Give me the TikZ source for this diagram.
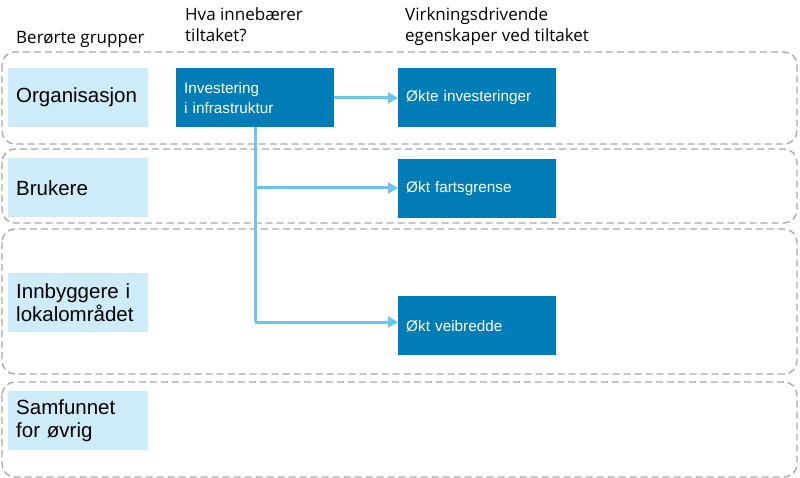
\documentclass[tikz,border=0pt]{standalone}
\usepackage{fontspec}
\setmainfont{Liberation Sans}
\newfontfamily\headfont{Open Sans}
\usetikzlibrary{arrows.meta}
\definecolor{lightbox}{HTML}{CDEBF8}
\definecolor{darkbox}{HTML}{007DB7}
\definecolor{arrowblue}{HTML}{6CC5EF}
\definecolor{dashgray}{HTML}{A8A8A8}
\begin{document}
\begin{tikzpicture}[x=1pt,y=-1pt,
  rowbox/.style={draw=dashgray,line width=1.3pt,dash pattern=on 7pt off 4pt,rounded corners=13pt},
  groupbox/.style={fill=lightbox,anchor=north west,minimum width=140pt,minimum height=59pt,text width=124pt,inner xsep=8pt,align=left,font=\fontsize{20.5}{23}\selectfont},
  effectbox/.style={fill=darkbox,text=white,anchor=north west,minimum width=158pt,minimum height=59pt,text width=142pt,inner xsep=8pt,align=left,font=\fontsize{15.3}{20}\selectfont},
  header/.style={anchor=base west,inner sep=0pt,align=left,font=\headfont\fontsize{17}{21}\selectfont},
  flow/.style={draw=arrowblue,line width=3pt,-{Triangle[length=10pt,width=11pt]}},
  ]
\useasboundingbox (0,0) rectangle (800,478);
% row frames
\draw[rowbox] (2,52) rectangle (797,144);
\draw[rowbox] (2,149) rectangle (797,223);
\draw[rowbox] (2,229) rectangle (797,374);
\draw[rowbox] (2,382) rectangle (797,477);
% headers
\node[header] (h1) at (16,44) {Berørte grupper};
\node[header] (h2) at (185,42) {Hva innebærer\\tiltaket?};
\node[header] (h3) at (405,42) {Virkningsdrivende\\egenskaper ved tiltaket};
% group boxes
\node[groupbox] (g1) at (8,68) {Organisasjon};
\node[groupbox] (g2) at (8,158) {Brukere};
\node[groupbox] (g3) at (8,273) {Innbyggere i\\lokalområdet};
\node[groupbox] (g4) at (8,391) {Samfunnet\\for øvrig};
% measure and effects
\node[effectbox] (m) at (176,68) {Investering\\i infrastruktur};
\node[effectbox] (e1) at (398,68) {Økte investeringer};
\node[effectbox] (e2) at (398,159) {Økt fartsgrense};
\node[effectbox] (e3) at (398,296) {Økt veibredde};
% connectors
\coordinate (split) at (255,188);
\coordinate (corner) at (255,322);
\draw[flow] (m.east |- 0,98) -- (e1.west |- 0,98);
\draw[draw=arrowblue,line width=3pt] (m.south -| split) -- (corner);
\draw[flow] (split) -- (e2.west |- split);
\draw[flow,line join=round] (corner) -- (e3.west |- corner);
\end{tikzpicture}
\end{document}
